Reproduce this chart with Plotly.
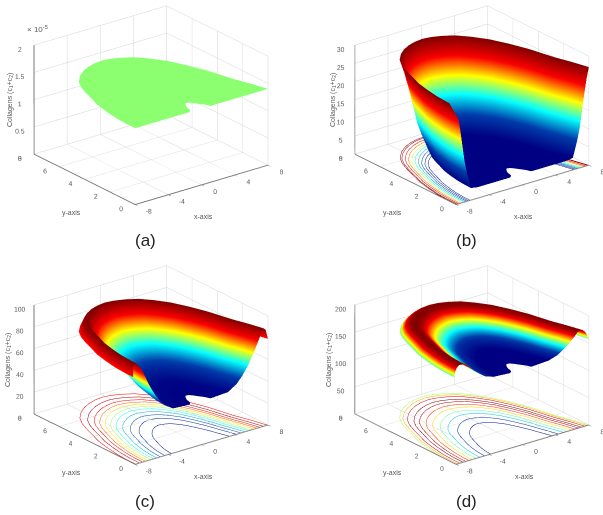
import numpy as np
import plotly.graph_objects as go

# outline of the domain, walked from x=8 over the top to x=-8
rim_x = [8, 7.5, 6.9, 6.55, 6.2, 5.5, 4.7, 3.7, 2.7, 1.6, 0.6, -0.3, -1.3, -2.3, -3.3, -4.2, -5.2, -5.85, -6.35, -6.8, -7.3, -7.65, -7.9, -8, -8]
rim_y = [0, 1.0, 2.0, 2.8, 3.6, 4.7, 5.7, 6.5, 7.1, 7.45, 7.65, 7.72, 7.65, 7.48, 7.2, 6.85, 6.3, 5.7, 5.0, 4.25, 3.45, 2.5, 1.6, 0.75, 0]
# notch at the bottom edge
hub_x = [1.1, 1.0, 0.9, 0.8, 0.6, 0.4, 0.25, 0.1, 0, -0.1, -0.25, -0.4, -0.55, -0.7, -0.85, -0.95, -1.0, -1.05, -1.1, -1.15, -1.2, -1.3, -1.38, -1.44, -1.5]
hub_y = [0, 0.1, 0.25, 0.35, 0.5, 0.65, 0.78, 0.88, 0.95, 0.98, 1, 1, 0.92, 0.8, 0.65, 0.5, 0.38, 0.28, 0.2, 0.15, 0.12, 0.08, 0.04, 0.02, 0]

a_rings = [0, 1]
a_z = [1.4, 1.4]
b_rings = [0, 0.3, 0.6, 0.72, 0.76, 0.8, 0.84, 0.88, 0.92, 0.96, 1]
b_z = [3, 3, 3, 3.3, 5.5, 8, 11, 15.5, 20, 24, 27]
c_rings = [0, 0.3, 0.45, 0.55, 0.65, 0.75, 0.85, 0.92, 0.96, 1]
c_z = [40, 41, 46, 52, 60, 70, 82, 90, 88, 79]
d_rings = [0, 0.3, 0.45, 0.55, 0.65, 0.75, 0.8, 0.85, 0.9, 0.94, 0.97, 1]
d_z = [138, 140, 145, 152, 160, 170, 176, 178, 177, 172, 166, 158]

# contour lines on the floor
b_contour_s = [0.74, 0.77, 0.8, 0.83, 0.86, 0.89, 0.92, 0.95, 0.98, 0.995]
b_contour_z = [4.5, 6, 8, 10.5, 13, 16.5, 20, 23, 25.5, 26.8]
c_contour_s = [0.33, 0.45, 0.53, 0.6, 0.66, 0.71, 0.76, 0.81, 0.86, 0.92, 0.99]
c_contour_z = [42, 46, 51, 56, 61, 66, 71, 76, 81, 88, 81]
d_contour_s = [0.36, 0.47, 0.56, 0.63, 0.7, 0.76, 0.82, 0.87, 0.93, 0.97, 1.0]
d_contour_z = [142, 146, 153, 158, 164, 169, 175, 178, 173, 165, 160]

x_ticks = [-8, -4, 0, 4, 8]
y_ticks = [0, 2, 4, 6, 8]
a_ticks = [0, 0.5, 1, 1.5, 2]
b_ticks = [0, 5, 10, 15, 20, 25, 30]
c_ticks = [0, 20, 40, 60, 80, 100]
d_ticks = [0, 50, 100, 150, 200]

GREY = '#5a5a5a'
GRID = '#d4d4d4'
FONT = 'Liberation Sans'
flat = dict(ambient=1, diffuse=0, specular=0, roughness=1, fresnel=0)

rim_x, rim_y, hub_x, hub_y = map(np.array, (rim_x, rim_y, hub_x, hub_y))


def ring_xy(s):
    return hub_x + s * (rim_x - hub_x), hub_y + s * (rim_y - hub_y)


def add_panel(fig, scene, rings, z, colorscale, cmin, cmax, contour_s=(), contour_z=()):
    xs, ys, zs = [], [], []
    for s, h in zip(rings, z):
        rx, ry = ring_xy(s)
        xs.append(rx)
        ys.append(ry)
        zs.append(np.full(rx.shape, h))
    fig.add_trace(go.Surface(
        x=np.array(xs), y=np.array(ys), z=np.array(zs), scene=scene,
        colorscale=colorscale, cmin=cmin, cmax=cmax, showscale=False,
        lighting=flat, hoverinfo='skip'
    ))
    for s, h in zip(contour_s, contour_z):
        rx, ry = ring_xy(s)
        fig.add_trace(go.Scatter3d(
            x=rx, y=ry, z=np.zeros(rx.shape), scene=scene, mode='lines',
            line=dict(color=[h] * len(rx), colorscale='Jet', cmin=cmin, cmax=cmax, width=1),
            showlegend=False, hoverinfo='skip'
        ))


def axis(ticks, rng, ticklen=0):
    return dict(
        title=dict(text=''),
        range=rng, tickvals=ticks, ticktext=[str(t) for t in ticks], tickangle=0,
        tickfont=dict(size=9, color=GREY, family=FONT),
        showgrid=True, gridcolor=GRID, gridwidth=1,
        showline=True, linecolor='#777777', linewidth=2,
        zeroline=False, showbackground=False, showspikes=False,
        ticks='outside', ticklen=ticklen, tickcolor=GREY
    )


def scene_layout(dom_x, dom_y, z_ticks, z_max, cx, cy, cz):
    return dict(
        domain=dict(x=dom_x, y=dom_y),
        xaxis=axis(x_ticks, [-8, 8]),
        yaxis=axis(y_ticks, [0, 8], 4),
        zaxis=axis(z_ticks, [0, z_max]),
        aspectmode='manual', aspectratio=dict(x=1.3, y=1.285, z=0.915),
        camera=dict(eye=dict(x=cx - 0.564, y=cy - 0.731, z=cz + 0.384),
                    center=dict(x=cx, y=cy, z=cz),
                    projection=dict(type='orthographic')),
        bgcolor='white'
    )


fig = go.Figure()
add_panel(fig, 'scene', a_rings, a_z, [[0, '#8CFF70'], [1, '#8CFF70']], 0, 2)
add_panel(fig, 'scene2', b_rings, b_z, 'Jet', 3, 27, b_contour_s, b_contour_z)
add_panel(fig, 'scene3', c_rings, c_z, 'Jet', 40, 90, c_contour_s, c_contour_z)
add_panel(fig, 'scene4', d_rings, d_z, 'Jet', 140, 178, d_contour_s, d_contour_z)

labels = [('(a)', 145, 240), ('(b)', 466, 240), ('(c)', 145, 501), ('(d)', 466, 501)]
annotations = [dict(text=t, x=x / 603, y=1 - y / 515, xref='paper', yref='paper',
                    xanchor='center', yanchor='middle', showarrow=False,
                    font=dict(size=17, color='#222222', family=FONT))
               for t, x, y in labels]
annotations.append(dict(text='× 10<sup>-5</sup>', x=37 / 603, y=1 - 29 / 515, xref='paper', yref='paper',
                        xanchor='center', yanchor='middle', showarrow=False,
                        font=dict(size=8, color=GREY, family=FONT)))

# axis titles sit where the reference has them
axis_titles = [('x-axis', 203, 216, 0), ('y-axis', 71, 213, 0), ('Collagens (c<sub>1</sub>+c<sub>2</sub>)', 10, 100, -90),
               ('x-axis', 523, 216, 0), ('y-axis', 392, 213, 0), ('Collagens (c<sub>1</sub>+c<sub>2</sub>)', 333, 100, -90),
               ('x-axis', 203, 476, 0), ('y-axis', 71, 473, 0), ('Collagens (c<sub>1</sub>+c<sub>2</sub>)', 8, 360, -90),
               ('x-axis', 524, 476, 0), ('y-axis', 392, 473, 0), ('Collagens (c<sub>1</sub>+c<sub>2</sub>)', 329, 360, -90)]
for t, x, y, rot in axis_titles:
    annotations.append(dict(text=t, x=x / 603, y=1 - y / 515, xref='paper', yref='paper', textangle=rot,
                            xanchor='center', yanchor='middle', showarrow=False,
                            font=dict(size=7, color=GREY, family=FONT)))

fig.update_layout(
    width=603, height=515,
    margin=dict(l=0, r=0, t=0, b=0),
    paper_bgcolor='white',
    showlegend=False,
    annotations=annotations,
    scene=scene_layout([0, 0.5], [0.5, 1.0], a_ticks, 2, 0, 0, -0.2),
    scene2=scene_layout([0.5, 1.0], [0.5, 1.0], b_ticks, 30, -0.116, 0.089, -0.2),
    scene3=scene_layout([0, 0.5], [0, 0.5], c_ticks, 100, 0, 0, -0.185),
    scene4=scene_layout([0.5, 1.0], [0, 0.5], d_ticks, 200, -0.116, 0.089, -0.185),
)

fig.write_html("out.html", config=dict(displayModeBar=False),
               post_script="document.body.style.margin='0';")
